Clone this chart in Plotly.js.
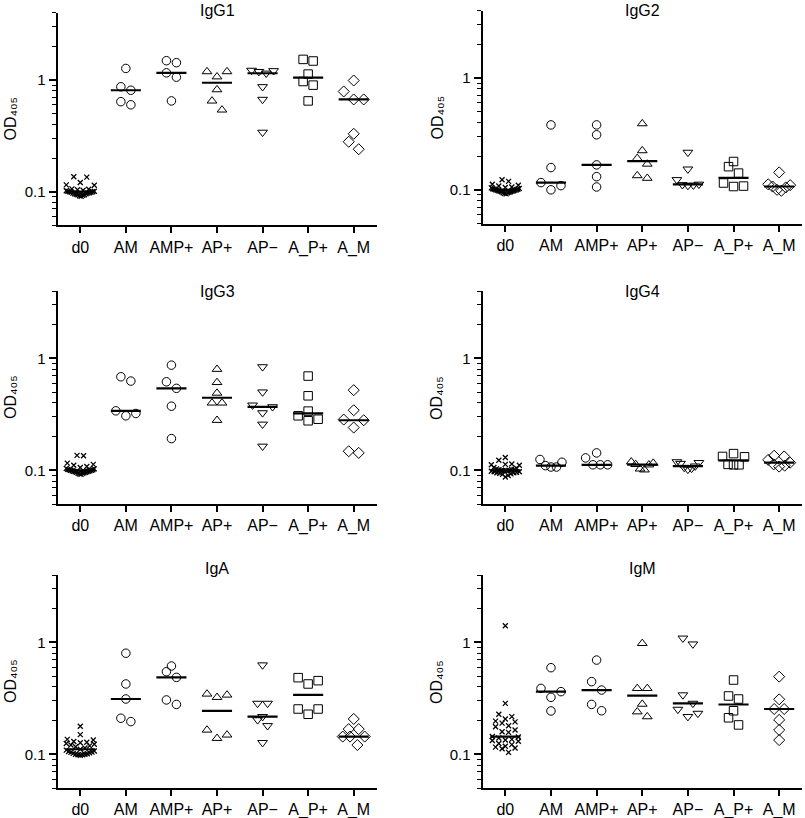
<!DOCTYPE html>
<html><head><meta charset="utf-8">
<script src="https://cdn.plot.ly/plotly-3.0.1.min.js"></script>
<style>html,body{margin:0;padding:0;background:#fff}</style>
</head><body><div id="chart" style="width:805px;height:818px"></div>
<script>
// ---------------- data ----------------
const categories = ["d0", "AM", "AMP+", "AP+", "AP\u2212", "A_P+", "A_M"];
const panelTitles = ["IgG1", "IgG2", "IgG3", "IgG4", "IgA", "IgM"];
const yAxisTitle = "OD\u2084\u2080\u2085";
const symbols = ["x-thin-open", "circle-open", "circle-open", "triangle-up-open", "triangle-down-open", "square-open", "diamond-open"];

const IgG1 = [
  [0.136, 0.135, 0.121, 0.115, 0.114, 0.106, 0.105, 0.104, 0.103, 0.102, 0.101, 0.101, 0.100, 0.100, 0.099, 0.099, 0.098, 0.097, 0.097, 0.096, 0.096, 0.095, 0.094, 0.094, 0.093, 0.092, 0.091],
  [1.27, 0.87, 0.81, 0.64, 0.60],
  [1.49, 1.43, 1.16, 1.06, 0.65],
  [1.19, 1.19, 1.07, 0.82, 0.65, 0.54],
  [1.22, 1.21, 1.19, 1.15, 0.87, 0.67, 0.34],
  [1.53, 1.48, 1.13, 0.97, 0.90, 0.65],
  [0.99, 0.79, 0.67, 0.67, 0.33, 0.28, 0.24]
];
const IgG2 = [
  [0.123, 0.119, 0.112, 0.110, 0.108, 0.106, 0.105, 0.104, 0.103, 0.102, 0.101, 0.101, 0.100, 0.100, 0.099, 0.099, 0.098, 0.098, 0.097, 0.097, 0.096, 0.096, 0.095, 0.094, 0.094, 0.093, 0.092],
  [0.38, 0.158, 0.116, 0.109, 0.100],
  [0.38, 0.31, 0.167, 0.131, 0.106],
  [0.39, 0.224, 0.191, 0.170, 0.134, 0.127],
  [0.216, 0.153, 0.123, 0.112, 0.111, 0.110, 0.109],
  [0.179, 0.161, 0.141, 0.115, 0.108, 0.107],
  [0.143, 0.112, 0.110, 0.107, 0.105, 0.100, 0.098]
];
const IgG3 = [
  [0.136, 0.135, 0.116, 0.113, 0.111, 0.108, 0.106, 0.104, 0.103, 0.102, 0.101, 0.101, 0.100, 0.100, 0.099, 0.099, 0.098, 0.098, 0.097, 0.097, 0.096, 0.096, 0.095, 0.094, 0.094, 0.093, 0.092],
  [0.685, 0.627, 0.34, 0.322, 0.307],
  [0.87, 0.618, 0.54, 0.374, 0.192],
  [0.80, 0.61, 0.49, 0.40, 0.40, 0.28],
  [0.84, 0.50, 0.382, 0.369, 0.326, 0.258, 0.164],
  [0.695, 0.463, 0.338, 0.307, 0.286, 0.277],
  [0.52, 0.344, 0.284, 0.28, 0.241, 0.148, 0.143]
];
const IgG4 = [
  [0.130, 0.123, 0.114, 0.113, 0.112, 0.111, 0.106, 0.104, 0.103, 0.102, 0.101, 0.101, 0.100, 0.100, 0.099, 0.099, 0.098, 0.097, 0.097, 0.096, 0.095, 0.095, 0.094, 0.093, 0.092, 0.090, 0.087],
  [0.125, 0.118, 0.110, 0.107, 0.107],
  [0.143, 0.129, 0.112, 0.112, 0.112],
  [0.119, 0.116, 0.113, 0.112, 0.103, 0.101],
  [0.119, 0.117, 0.115, 0.109, 0.106, 0.104, 0.102],
  [0.141, 0.133, 0.132, 0.113, 0.112, 0.112],
  [0.135, 0.133, 0.124, 0.117, 0.113, 0.110, 0.108]
];
const IgA = [
  [0.178, 0.150, 0.136, 0.134, 0.130, 0.128, 0.127, 0.125, 0.123, 0.121, 0.119, 0.117, 0.114, 0.111, 0.109, 0.107, 0.106, 0.105, 0.104, 0.103, 0.102, 0.101, 0.100, 0.100, 0.099, 0.099, 0.098],
  [0.80, 0.425, 0.312, 0.21, 0.196],
  [0.615, 0.547, 0.487, 0.306, 0.279],
  [0.346, 0.339, 0.323, 0.165, 0.149, 0.139],
  [0.628, 0.285, 0.285, 0.217, 0.203, 0.18, 0.127],
  [0.484, 0.455, 0.425, 0.254, 0.254, 0.228],
  [0.207, 0.168, 0.168, 0.144, 0.144, 0.144, 0.121]
];
const IgM = [
  [1.41, 0.285, 0.228, 0.217, 0.207, 0.198, 0.195, 0.190, 0.180, 0.176, 0.165, 0.159, 0.157, 0.143, 0.144, 0.140, 0.136, 0.134, 0.133, 0.131, 0.125, 0.122, 0.118, 0.116, 0.114, 0.112, 0.104],
  [0.594, 0.388, 0.363, 0.323, 0.244],
  [0.695, 0.446, 0.375, 0.279, 0.245],
  [0.98, 0.388, 0.388, 0.281, 0.240, 0.217],
  [1.09, 0.966, 0.339, 0.285, 0.252, 0.232, 0.217],
  [0.461, 0.332, 0.312, 0.245, 0.212, 0.183],
  [0.494, 0.310, 0.254, 0.254, 0.203, 0.165, 0.134]
];
const panelData = [IgG1, IgG2, IgG3, IgG4, IgA, IgM];

const yTickVals = [0.1, 1];
const yTickText = ["0.1", "1"];
const yMinorTicks = [0.05, 0.06, 0.07, 0.08, 0.09, 0.2, 0.3, 0.4, 0.5, 0.6, 0.7, 0.8, 0.9, 2, 3, 4];
const yLimits = [0.05, 4];

// ---------------- layout geometry (pixels) ----------------
const W = 805, H = 818;
const FONT = "Liberation Sans, Arial, Helvetica, sans-serif";
const boxes = [
  {x0: 57.5, x1: 376.5, y0: 12.8, y1: 225.3},
  {x0: 482.5, x1: 802, y0: 10.5, y1: 223.5},
  {x0: 57.5, x1: 376.5, y0: 291, y1: 504},
  {x0: 482.5, x1: 802, y0: 291, y1: 504},
  {x0: 57.5, x1: 376.5, y0: 575, y1: 788},
  {x0: 482.5, x1: 802, y0: 575, y1: 788}
];
const titleCY = [10.5, 10.5, 291.3, 291.3, 568.7, 568.7];
const ylabCX = [10.5, 436.5, 10.5, 436.5, 10.5, 436.5];
// swarm styling: [row bin px, base spacing px, max row width px]
const swarmD0 = [6, 6.5, 28];
const swarmGroup = [9, 10, 22];

function median(a) {
  const s = [...a].sort((p, q) => p - q), n = s.length;
  return n % 2 ? s[(n - 1) / 2] : (s[n / 2 - 1] + s[n / 2]) / 2;
}
// Prism-like column scatter: group close values into rows, spread rows horizontally
function swarmOffsets(vals, pxPerDecade, cfg) {
  const [bin, base, maxW] = cfg;
  const idx = vals.map((v, i) => i).sort((a, b) => vals[a] - vals[b]);
  const off = new Array(vals.length).fill(0);
  let row = [], start = null;
  const flush = () => {
    const n = row.length, slots = [];
    const sp = n > 1 ? Math.min(base, maxW / (n - 1)) : 0;
    for (let j = 0; j < n; j++) slots.push((j - (n - 1) / 2) * sp);
    slots.sort((a, b) => Math.abs(a) - Math.abs(b) || b - a);
    row.forEach((i, j) => { off[i] = slots[j]; });
    row = [];
  };
  idx.forEach(i => {
    const y = Math.log10(vals[i]) * pxPerDecade;
    if (start === null || y - start > bin) { flush(); start = y; }
    row.push(i);
  });
  flush();
  return off;
}

const traces = [];
const layout = {
  width: W, height: H, margin: {l: 0, r: 0, t: 0, b: 0},
  paper_bgcolor: "#fff", plot_bgcolor: "#fff", showlegend: false,
  font: {family: FONT, size: 15, color: "#000"},
  annotations: []
};

panelData.forEach((groups, p) => {
  const b = boxes[p];
  const n = p + 1;
  const xa = "x" + (n === 1 ? "" : n), ya = "y" + (n === 1 ? "" : n);
  const pxPerDecade = (b.y1 - b.y0) / (Math.log10(yLimits[1]) - Math.log10(yLimits[0]));
  const pxPerUnit = (b.x1 - b.x0) / 7;
  const mx = [], my = [];
  groups.forEach((vals, g) => {
    const isD0 = g === 0;
    const off = swarmOffsets(vals, pxPerDecade, isD0 ? swarmD0 : swarmGroup);
    traces.push({
      type: "scatter", mode: "markers", xaxis: xa, yaxis: ya,
      x: vals.map((v, i) => g + off[i] / pxPerUnit), y: vals,
      marker: {
        symbol: symbols[g], size: isD0 ? 5 : 8.5, color: "#000",
        line: {color: "#000", width: isD0 ? 1.3 : 1}
      },
      hoverinfo: "skip", cliponaxis: false
    });
    const m = median(vals);
    mx.push(g - 0.33, g + 0.33, null);
    my.push(m, m, null);
  });
  traces.push({
    type: "scatter", mode: "lines", xaxis: xa, yaxis: ya, x: mx, y: my,
    line: {color: "#000", width: 2.2}, hoverinfo: "skip"
  });

  layout["xaxis" + (n === 1 ? "" : n)] = {
    domain: [b.x0 / W, b.x1 / W], anchor: ya, range: [-0.5, 6.5],
    tickmode: "array", tickvals: categories.map((c, i) => i), ticktext: categories,
    showline: true, linecolor: "#000", linewidth: 2,
    ticks: "outside", ticklen: 6, tickwidth: 1.6, tickcolor: "#000",
    showgrid: false, zeroline: false, fixedrange: true,
    tickfont: {family: FONT, size: 16, color: "#000"}
  };
  layout["yaxis" + (n === 1 ? "" : n)] = {
    domain: [1 - b.y1 / H, 1 - b.y0 / H], anchor: xa, type: "log",
    range: [Math.log10(yLimits[0]), Math.log10(yLimits[1])],
    tickmode: "array", tickvals: yTickVals, ticktext: yTickText,
    showline: true, linecolor: "#000", linewidth: 2,
    ticks: "outside", ticklen: 7, tickwidth: 1.6, tickcolor: "#000",
    minor: {tickmode: "array", tickvals: yMinorTicks, ticks: "outside", ticklen: 4, tickwidth: 1.3, tickcolor: "#000", showgrid: false},
    showgrid: false, zeroline: false, fixedrange: true,
    tickfont: {family: FONT, size: 15, color: "#000"}
  };
  layout.annotations.push({
    text: panelTitles[p], xref: "paper", yref: "paper",
    x: (b.x0 + b.x1) / 2 / W, y: 1 - titleCY[p] / H, xanchor: "center", yanchor: "middle",
    showarrow: false, font: {family: FONT, size: 16, color: "#000"}
  });
  layout.annotations.push({
    text: yAxisTitle, xref: "paper", yref: "paper", textangle: -90,
    x: ylabCX[p] / W, y: 1 - (b.y0 + b.y1) / 2 / H, xanchor: "center", yanchor: "middle",
    showarrow: false, font: {family: FONT, size: 16, color: "#000"}
  });
});

Plotly.newPlot("chart", traces, layout, {displayModeBar: false});
</script>
</body></html>
